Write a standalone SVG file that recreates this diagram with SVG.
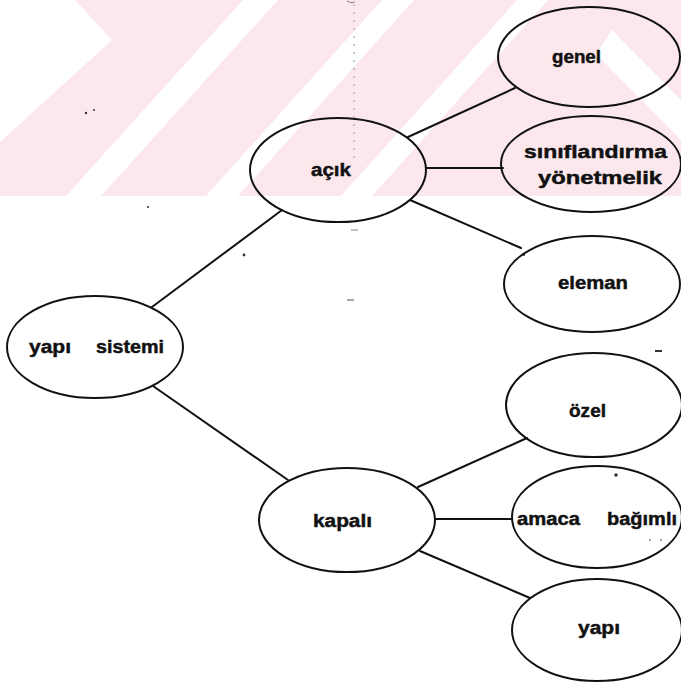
<svg xmlns="http://www.w3.org/2000/svg" width="681" height="684" viewBox="0 0 681 684">
  <style>
    .node { fill: none; stroke: #111; stroke-width: 2; }
    .edge { stroke: #111; stroke-width: 2; fill: none; stroke-linecap: round; }
    .lbl { font-family: "Liberation Sans", Arial, Helvetica, sans-serif; font-weight: bold; font-size: 18px; fill: #111; stroke: #111; stroke-width: 0.45; }
    .wm { fill: #fce8ec; }
    .gap { fill: #ffffff; }
    .speck { fill: #333; }
  </style>

  <rect width="681" height="684" fill="#ffffff"/>

  <!-- faint striped band across the top -->
  <g id="watermark">
    <rect class="wm" x="0" y="0" width="681" height="196"/>
    <polygon class="gap" points="0,0 75,0 112,40 0,142"/>
    <polygon class="gap" points="243,0 278,0 101,196 66,196"/>
    <polygon class="gap" points="382,0 414,0 238,196 206,196"/>
    <polygon class="gap" points="517,0 548,0 372,196 341,196"/>
    <polygon class="gap" points="612,30 681,100 681,140 596,54"/>
  </g>

  <!-- scanner specks -->
  <g id="specks">
    <line x1="354" y1="4" x2="354" y2="158" stroke="#999" stroke-width="1" stroke-dasharray="2 6"/>
    <path d="M347,1 q4,3 8,1" stroke="#888" stroke-width="1" fill="none"/>
    <circle class="speck" cx="86" cy="113" r="1.2"/>
    <circle class="speck" cx="94" cy="110" r="1"/>
    <circle class="speck" cx="148" cy="207" r="1"/>
    <circle class="speck" cx="244" cy="255" r="1.4"/>
    <path d="M351,230 h7" stroke="#888" stroke-width="1"/>
    <path d="M347,300 h7" stroke="#555" stroke-width="1"/>
    <circle class="speck" cx="524" cy="255" r="1"/>
    <path d="M655,351 h7" stroke="#333" stroke-width="2"/>
    <circle class="speck" cx="616" cy="475" r="1.8"/>
    <circle class="speck" cx="650" cy="540" r="0.8"/>
    <circle class="speck" cx="661" cy="540" r="0.8"/>
  </g>

  <g id="connectors">
    <line class="edge" x1="152" y1="307" x2="282" y2="210"/>
    <line class="edge" x1="153" y1="386" x2="288" y2="480"/>
    <line class="edge" x1="408" y1="137" x2="515" y2="88"/>
    <line class="edge" x1="426" y1="168" x2="503" y2="168"/>
    <line class="edge" x1="410" y1="200" x2="521" y2="248"/>
    <line class="edge" x1="418" y1="487" x2="527" y2="438"/>
    <line class="edge" x1="436" y1="519" x2="512" y2="519"/>
    <line class="edge" x1="420" y1="551" x2="530" y2="598"/>
  </g>

  <g id="yapi-sistemi">
    <ellipse class="node" cx="95" cy="347" rx="88" ry="51"/>
    <text class="lbl" y="353"><tspan x="29" textLength="42" lengthAdjust="spacingAndGlyphs">yapı</tspan><tspan x="96" textLength="68" lengthAdjust="spacingAndGlyphs">sistemi</tspan></text>
  </g>

  <g id="acik">
    <ellipse class="node" cx="338" cy="170" rx="88" ry="52"/>
    <text class="lbl" x="311" y="176" textLength="40" lengthAdjust="spacingAndGlyphs">açık</text>
  </g>

  <g id="kapali">
    <ellipse class="node" cx="347" cy="520" rx="88" ry="52"/>
    <text class="lbl" x="313" y="527" textLength="59" lengthAdjust="spacingAndGlyphs">kapalı</text>
  </g>

  <g id="genel">
    <ellipse class="node" cx="589" cy="57" rx="91" ry="50"/>
    <text class="lbl" x="552" y="63" textLength="49" lengthAdjust="spacingAndGlyphs">genel</text>
  </g>

  <g id="siniflandirma-yonetmelik">
    <ellipse class="node" cx="591" cy="164" rx="90" ry="48"/>
    <text class="lbl" x="524" y="158" textLength="143" lengthAdjust="spacingAndGlyphs">sınıflandırma</text>
    <text class="lbl" x="538" y="184" textLength="124" lengthAdjust="spacingAndGlyphs">yönetmelik</text>
  </g>

  <g id="eleman">
    <ellipse class="node" cx="592" cy="284" rx="88" ry="48"/>
    <text class="lbl" x="558" y="289" textLength="70" lengthAdjust="spacingAndGlyphs">eleman</text>
  </g>

  <g id="ozel">
    <ellipse class="node" cx="594" cy="405" rx="88" ry="52"/>
    <text class="lbl" x="569" y="417" textLength="37" lengthAdjust="spacingAndGlyphs">özel</text>
  </g>

  <g id="amaca-bagimli">
    <ellipse class="node" cx="597" cy="517" rx="85" ry="51"/>
    <text class="lbl" y="525"><tspan x="517" textLength="63" lengthAdjust="spacingAndGlyphs">amaca</tspan><tspan x="607" textLength="70" lengthAdjust="spacingAndGlyphs">bağımlı</tspan></text>
  </g>

  <g id="yapi">
    <ellipse class="node" cx="597" cy="630" rx="85" ry="51"/>
    <text class="lbl" x="578" y="634" textLength="42" lengthAdjust="spacingAndGlyphs">yapı</text>
  </g>
</svg>
